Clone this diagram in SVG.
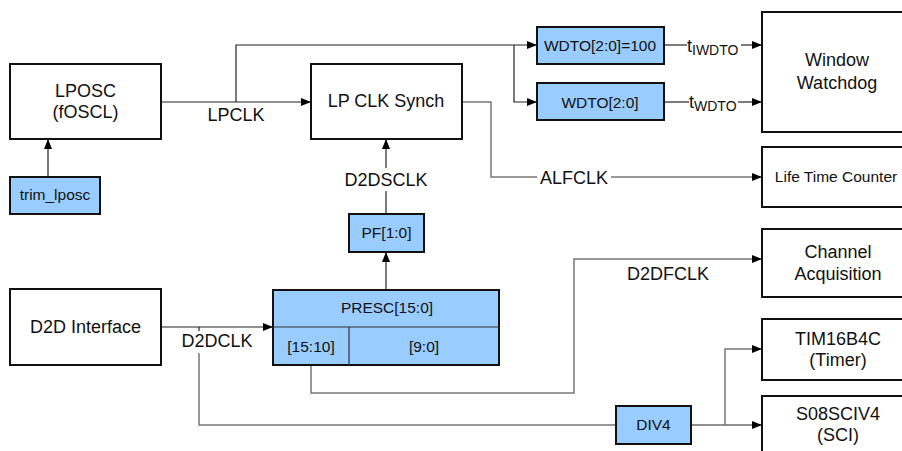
<svg xmlns="http://www.w3.org/2000/svg" width="902" height="451" viewBox="0 0 902 451">
<style>
.box{fill:#fff;stroke:#111;stroke-width:2}
.reg{fill:#99ccff;stroke:#111;stroke-width:2}
.ln{fill:none;stroke:#222;stroke-width:1.2}
.gl{fill:none;stroke:#777;stroke-width:1.5}
text{font-family:"Liberation Sans",Arial,sans-serif;fill:#111;text-anchor:middle}
.big{font-size:18px}
.sm{font-size:15.5px}
.sub{font-size:14px}
.st{text-anchor:start}
</style>
<defs>
<marker id="ah" viewBox="0 0 10 8" refX="10" refY="4" markerWidth="10" markerHeight="8" markerUnits="userSpaceOnUse" orient="auto">
<path d="M0,0 L10,4 L0,8 z" fill="#000"/>
</marker>
</defs>
<g id="connectors">
<path class="ln" d="M48,177 V139" marker-end="url(#ah)"/>
<path class="ln" d="M161,102 H311" marker-end="url(#ah)"/>
<path class="ln" d="M236,102 V45 H537" marker-end="url(#ah)"/>
<path class="ln" d="M514,45 V102 H537" marker-end="url(#ah)"/>
<path class="ln" d="M664,45 H687"/>
<path class="ln" d="M741,45 H762" marker-end="url(#ah)"/>
<path class="ln" d="M664,102 H689"/>
<path class="ln" d="M738,102 H762" marker-end="url(#ah)"/>
<path class="gl" d="M462,102 H491 V177 H537"/>
<path class="gl" d="M611,177 H762" marker-end="url(#ah)"/>
<path class="ln" d="M386,168 V139" marker-end="url(#ah)"/>
<path class="ln" d="M386,214 V191"/>
<path class="ln" d="M386,290 V252" marker-end="url(#ah)"/>
<path class="ln" d="M161,327 H273" marker-end="url(#ah)"/>
<path class="ln" d="M199,327 V331"/>
<path class="gl" d="M199,353 V425 H616"/>
<path class="gl" d="M311,365 V393 H574 V259 H762" marker-end="url(#ah)"/>
<path class="ln" d="M691,425 H762" marker-end="url(#ah)"/>
<path class="gl" d="M725,425 V349 H762" marker-end="url(#ah)"/>
</g>
<g id="lposc">
<rect class="box" x="10" y="64" width="151" height="75"/>
<text class="big" x="85.5" y="97">LPOSC</text>
<text class="big" x="85.5" y="118">(fOSCL)</text>
</g>
<g id="trim_lposc">
<rect class="reg" x="10" y="177" width="90" height="37"/>
<text class="sm" x="55" y="200">trim_lposc</text>
</g>
<g id="lpclk-label"><text class="big" x="236" y="121">LPCLK</text></g>
<g id="lpclksynch">
<rect class="box" x="311" y="64" width="151" height="75"/>
<text class="big" x="386" y="107">LP CLK Synch</text>
</g>
<g id="wdto100">
<rect class="reg" x="537" y="27" width="127" height="37"/>
<text class="sm" x="600" y="51">WDTO[2:0]=100</text>
</g>
<g id="wdto">
<rect class="reg" x="537" y="83" width="127" height="37"/>
<text class="sm" x="600" y="108">WDTO[2:0]</text>
</g>
<g id="tlabels">
<text class="big st" x="687" y="52">t<tspan class="sub" dy="3">IWDTO</tspan></text>
<text class="big st" x="689" y="108">t<tspan class="sub" dy="3">WDTO</tspan></text>
</g>
<g id="watchdog">
<rect class="box" x="762" y="12" width="150" height="120"/>
<text class="big" x="837" y="66">Window</text>
<text class="big" x="837" y="89">Watchdog</text>
</g>
<g id="alfclk-label"><text class="big" x="574" y="184">ALFCLK</text></g>
<g id="lifetime">
<rect class="box" x="762" y="147" width="150" height="60"/>
<text class="sm" x="836" y="182">Life Time Counter</text>
</g>
<g id="d2dsclk-label"><text class="big" x="386" y="186">D2DSCLK</text></g>
<g id="pf">
<rect class="reg" x="349" y="214" width="75" height="38"/>
<text class="sm" x="386.5" y="238">PF[1:0]</text>
</g>
<g id="d2d">
<rect class="box" x="10" y="289" width="151" height="76"/>
<text class="big" x="85.5" y="333">D2D Interface</text>
</g>
<g id="d2dclk-label"><text class="big" x="217" y="347">D2DCLK</text></g>
<g id="presc">
<rect class="reg" x="273" y="290" width="226" height="75"/>
<path d="M273,327 H499 M349,327 V365" stroke="#333" stroke-width="1.2" fill="none"/>
<text class="sm" x="387" y="313">PRESC[15:0]</text>
<text class="sm" x="311" y="352">[15:10]</text>
<text class="sm" x="424" y="352">[9:0]</text>
</g>
<g id="d2dfclk-label"><text class="big" x="668" y="280">D2DFCLK</text></g>
<g id="channel">
<rect class="box" x="762" y="229" width="150" height="68"/>
<text class="big" x="838" y="258">Channel</text>
<text class="big" x="838" y="280">Acquisition</text>
</g>
<g id="timer">
<rect class="box" x="762" y="319" width="150" height="61"/>
<text class="big" x="838" y="345">TIM16B4C</text>
<text class="big" x="838" y="366">(Timer)</text>
</g>
<g id="sci">
<rect class="box" x="762" y="396" width="150" height="70"/>
<text class="big" x="838" y="420">S08SCIV4</text>
<text class="big" x="838" y="441">(SCI)</text>
</g>
<g id="div4">
<rect class="reg" x="616" y="406" width="75" height="38"/>
<text class="sm" x="653.5" y="430">DIV4</text>
</g>
</svg>
